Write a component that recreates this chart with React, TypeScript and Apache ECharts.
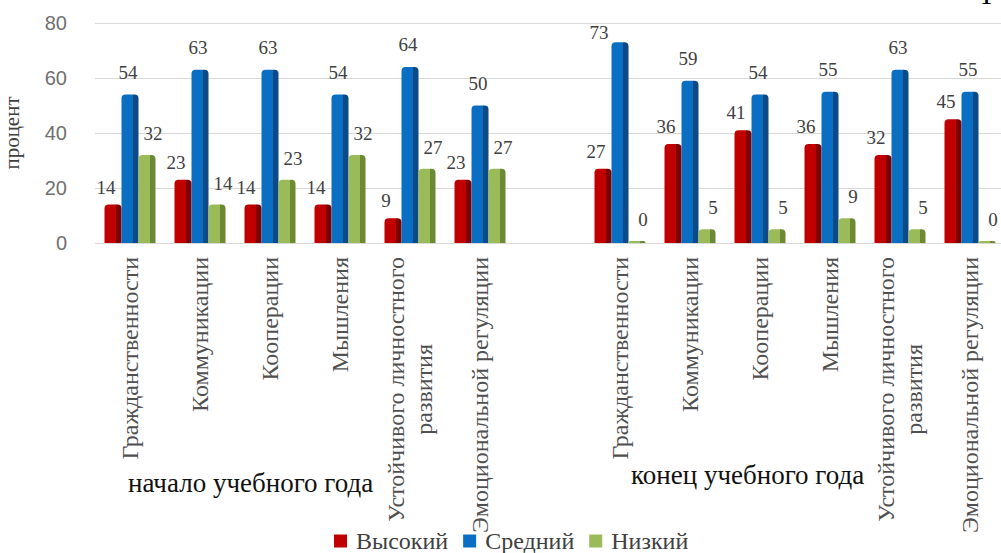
import React, { useEffect, useRef } from 'react';
import * as echarts from 'echarts';

const skills = [
  'Гражданственности',
  'Коммуникации',
  'Кооперации',
  'Мышления',
  'Устойчивого личностного\nразвития',
  'Эмоциональной регуляции',
];
const startHigh = [14, 23, 14, 14, 9, 23];
const startMid = [54, 63, 63, 54, 64, 50];
const startLow = [32, 14, 23, 32, 27, 27];
const endHigh = [27, 36, 41, 36, 32, 45];
const endMid = [73, 59, 54, 55, 63, 55];
const endLow = [0, 5, 5, 9, 5, 0];
const seriesNames = ['Высокий', 'Средний', 'Низкий'];
const groupTitles = ['начало учебного года', 'конец учебного года'];
const yAxisName = 'процент';

const categories = [...skills, '', ...skills];
const join = (a: number[], b: number[]) => [...a, '-', ...b];

const SERIF = 'Liberation Serif';
const SANS = 'Liberation Sans';
const front = ['#C00000', '#0A6FC2', '#9BBB59'];
const side = ['#7E0000', '#0B4A86', '#6B8A33'];

const grad = (i: number) =>
  new echarts.graphic.LinearGradient(0, 0, 1, 0, [
    { offset: 0, color: front[i] },
    { offset: 0.7, color: front[i] },
    { offset: 0.7, color: side[i] },
    { offset: 1, color: side[i] },
  ]);

export default function App() {
  const ref = useRef<HTMLDivElement>(null);
  useEffect(() => {
    document.body.style.margin = '0';
    const chart = echarts.init(ref.current!, null, { renderer: 'svg' });
    const labelBase = {
      show: true,
      position: 'top',
      fontFamily: SERIF,
      fontSize: 19,
      color: '#404040',
    };
    const midData = join(startMid, endMid).map((v, i) =>
      i === 7 ? { value: v, label: { offset: [-21, 5] } } : v
    );
    chart.setOption({
      animation: false,
      textStyle: { fontFamily: SERIF },
      grid: {
        left: 95,
        top: 23,
        width: 910,
        height: 220,
        containLabel: false,
        outerBoundsMode: 'none',
      },
      legend: {
        top: 529,
        left: 334,
        itemWidth: 13,
        itemHeight: 13,
        itemGap: 15,
        icon: 'rect',
        padding: 0,
        textStyle: {
          fontFamily: SERIF,
          fontSize: 24,
          color: '#404040',
          lineHeight: 24,
          padding: [0, 0, 0, 4],
        },
        data: seriesNames.map((n, i) => ({ name: n, itemStyle: { color: front[i] } })),
      },
      xAxis: {
        type: 'category',
        data: categories,
        axisLine: { show: false },
        axisTick: { show: false },
        axisLabel: {
          interval: 0,
          rotate: 90,
          margin: 14,
          hideOverlap: false,
          fontFamily: SERIF,
          fontSize: 24,
          formatter: (v: string) =>
            v
              .split('\n')
              .map((s) => `{c|${s}}`)
              .join('\n'),
          rich: {
            c: {
              align: 'center',
              fontFamily: SERIF,
              fontSize: 24,
              color: '#505050',
              lineHeight: 28,
            },
          },
        },
      },
      yAxis: {
        type: 'value',
        min: 0,
        max: 80,
        interval: 20,
        name: yAxisName,
        nameLocation: 'middle',
        nameGap: 73,
        nameRotate: 90,
        nameTextStyle: { fontFamily: SERIF, fontSize: 21, color: '#404040' },
        axisLine: { show: false },
        axisTick: { show: false },
        axisLabel: {
          margin: 28,
          fontFamily: SANS,
          fontSize: 20,
          color: '#707070',
        },
        splitLine: { lineStyle: { color: '#d9d9d9', width: 1 } },
      },
      series: [
        {
          name: seriesNames[0],
          type: 'bar',
          barWidth: 17,
          barGap: '0%',
          data: join(startHigh, endHigh),
          itemStyle: { color: grad(0), borderRadius: [4, 4, 0, 0] },
          label: { ...labelBase, offset: [-7, -3] },
        },
        {
          name: seriesNames[1],
          type: 'bar',
          barWidth: 17,
          barGap: '0%',
          data: midData,
          itemStyle: { color: grad(1), borderRadius: [4, 4, 0, 0] },
          label: { ...labelBase, offset: [-2, -8] },
        },
        {
          name: seriesNames[2],
          type: 'bar',
          barWidth: 17,
          barGap: '0%',
          barMinHeight: 2,
          data: join(startLow, endLow),
          itemStyle: { color: grad(2), borderRadius: [4, 4, 0, 0] },
          label: { ...labelBase, offset: [6, -7] },
        },
      ],
      graphic: [
        {
          type: 'text',
          left: 128,
          top: 469,
          style: { text: groupTitles[0], font: '27px Liberation Serif', fill: '#111' },
        },
        {
          type: 'text',
          left: 631,
          top: 461,
          style: { text: groupTitles[1], font: '27px Liberation Serif', fill: '#111' },
        },
        {
          type: 'text',
          x: 978,
          y: -20,
          style: { text: 'Т', font: '28px Liberation Serif', fill: '#000' },
        },
      ],
    });
    return () => chart.dispose();
  }, []);
  return <div ref={ref} style={{ width: 1001, height: 553 }} />;
}
